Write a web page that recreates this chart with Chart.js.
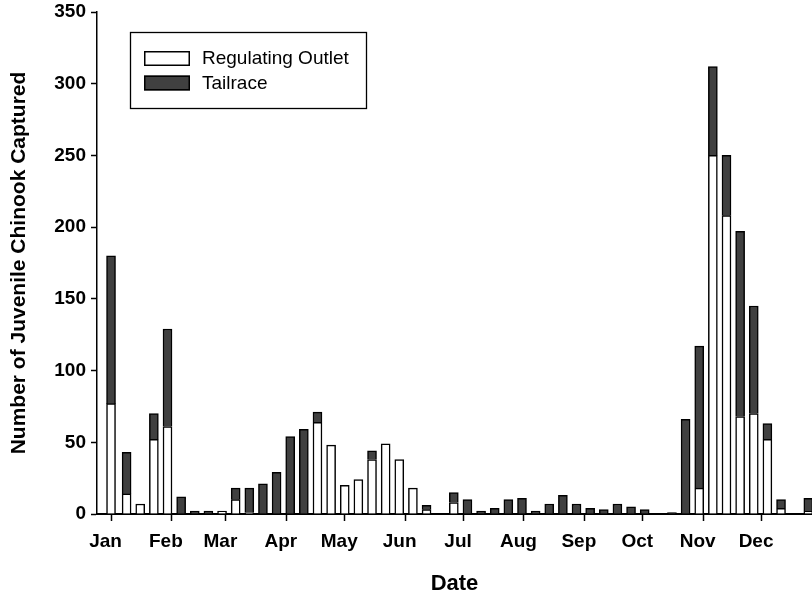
<!DOCTYPE html>
<html>
<head>
<meta charset="utf-8">
<script src="https://cdn.jsdelivr.net/npm/chart.js@4/dist/chart.umd.min.js"></script>
<style>
  html, body { margin: 0; padding: 0; background: #fff; }
  #wrap { width: 812px; height: 600px; }
</style>
</head>
<body>
<div id="wrap"><canvas id="chart" width="812" height="600"></canvas></div>
<script>
// Weekly sampling dates (month-day)
const weekDates = [
  '01-01','01-09','01-16','01-23','01-30','02-06','02-13','02-20','02-27',
  '03-06','03-13','03-20','03-27','04-03','04-10','04-17','04-24',
  '05-01','05-08','05-15','05-22','05-29','06-05','06-12','06-19','06-26',
  '07-03','07-10','07-17','07-24','07-31','08-07','08-14','08-21','08-28',
  '09-04','09-11','09-18','09-25','10-02','10-09','10-16','10-23','10-30',
  '11-06','11-13','11-20','11-27','12-04','12-11','12-18','12-25'
];

// Juvenile chinook captured per week
const regulatingOutlet = [
  77, 14, 7, 52, 61, 0, 0, 0, 2,
  10, 1, 0, 0, 0, 0, 64, 48,
  20, 24, 38, 49, 38, 18, 3, 0, 8,
  0, 0, 0, 0, 0, 0, 0, 0, 0,
  0, 0, 0, 0, 0, 0, 0, 0, 18,
  250, 208, 68, 70, 52, 4, 0, 2
];
const tailrace = [
  103, 29, 0, 18, 68, 12, 2, 2, 0,
  8, 17, 21, 29, 54, 59, 7, 0,
  0, 0, 6, 0, 0, 0, 3, 0, 7,
  10, 2, 4, 10, 11, 2, 7, 13, 7,
  4, 3, 7, 5, 3, 0, 1, 66, 99,
  62, 42, 129, 75, 11, 6, 0, 9
];

// Month axis
const monthStarts = ['01-01','02-01','03-01','04-01','05-01','06-01',
                     '07-01','08-01','09-01','10-01','11-01','12-01'];
const monthLabels = ['Jan','Feb','Mar','Apr','May','Jun',
                     'Jul','Aug','Sep','Oct','Nov','Dec'];

// Day offset from Jan 1 (non-leap year)
function dayOfYear(md) {
  const [m, d] = md.split('-').map(Number);
  return (Date.UTC(2001, m - 1, d) - Date.UTC(2001, 0, 1)) / 86400000;
}

const weekDays = weekDates.map(dayOfYear);
const monthDays = monthStarts.map(dayOfYear);

const FONT = '"Liberation Sans", Arial, Helvetica, sans-serif';
const DARK = '#404040';

// Boxed legend drawn inside the plot area
const boxedLegend = {
  id: 'boxedLegend',
  afterDraw(chart) {
    const ctx = chart.ctx;
    ctx.save();
    ctx.strokeStyle = '#000';
    ctx.lineWidth = 1.3;
    ctx.strokeRect(130.5, 32.5, 236, 76);
    ctx.font = '19px ' + FONT;
    ctx.textBaseline = 'middle';
    ctx.textAlign = 'left';
    chart.data.datasets.forEach((ds, i) => {
      const y = 51 + i * 24.5;
      ctx.fillStyle = ds.backgroundColor;
      ctx.fillRect(144, y, 46, 15);
      ctx.lineWidth = 1.5;
      ctx.strokeStyle = '#000';
      ctx.strokeRect(144.75, y + 0.75, 44.5, 13.5);
      ctx.fillStyle = '#000';
      ctx.fillText(ds.label, 202, y + 8);
    });
    ctx.restore();
  }
};

new Chart(document.getElementById('chart'), {
  type: 'bar',
  data: {
    datasets: [
      {
        label: 'Regulating Outlet',
        data: weekDays.map((d, i) => ({ x: d, y: regulatingOutlet[i] })),
        backgroundColor: '#ffffff',
        borderColor: '#000000',
        borderWidth: 1.5,
        barThickness: 9
      },
      {
        label: 'Tailrace',
        data: weekDays.map((d, i) => ({ x: d, y: tailrace[i] })),
        backgroundColor: DARK,
        borderColor: '#000000',
        borderWidth: 1.5,
        barThickness: 9
      }
    ]
  },
  options: {
    responsive: false,
    animation: false,
    events: [],
    layout: { padding: { top: 12, right: 0, left: 0, bottom: 0 } },
    plugins: {
      legend: { display: false },
      tooltip: { enabled: false }
    },
    scales: {
      x: {
        type: 'linear',
        stacked: true,
        offset: false,
        min: -7.2,
        max: 359.9,
        afterBuildTicks(scale) {
          scale.ticks = monthDays.map(v => ({ value: v }));
        },
        afterFit(scale) {
          scale.height = 86;
          scale.paddingLeft = 0;
          scale.paddingRight = 0;
        },
        grid: {
          display: true,
          offset: false,
          drawOnChartArea: false,
          drawTicks: true,
          tickLength: 7,
          tickWidth: 1.5,
          tickColor: '#000'
        },
        border: { display: true, color: '#000', width: 2 },
        ticks: {
          autoSkip: false,
          maxRotation: 0,
          padding: 9,
          labelOffset: -5.5,
          color: '#000',
          font: { family: FONT, size: 19, weight: 'bold' },
          callback(value) {
            const i = monthDays.indexOf(value);
            return i >= 0 ? monthLabels[i] : '';
          }
        },
        title: {
          display: true,
          text: 'Date',
          color: '#000',
          font: { family: FONT, size: 22, weight: 'bold', lineHeight: 1 },
          padding: { top: 0, bottom: 5 }
        }
      },
      y: {
        stacked: true,
        min: 0,
        max: 350,
        afterFit(scale) {
          scale.width = 97;
          scale.paddingTop = 0;
          scale.paddingBottom = 0;
        },
        grid: {
          display: true,
          offset: false,
          drawOnChartArea: false,
          drawTicks: true,
          tickLength: 6,
          tickWidth: 1.5,
          tickColor: '#000'
        },
        border: { display: true, color: '#000', width: 1.5 },
        ticks: {
          stepSize: 50,
          padding: 5,
          color: '#000',
          font: { family: FONT, size: 19, weight: 'bold', lineHeight: 1 }
        },
        title: {
          display: true,
          text: 'Number of Juvenile Chinook Captured',
          color: '#000',
          font: { family: FONT, size: 21, weight: 'bold', lineHeight: 1 },
          padding: { top: 8.5, bottom: 0 }
        }
      }
    }
  },
  plugins: [boxedLegend]
});
</script>
</body>
</html>
